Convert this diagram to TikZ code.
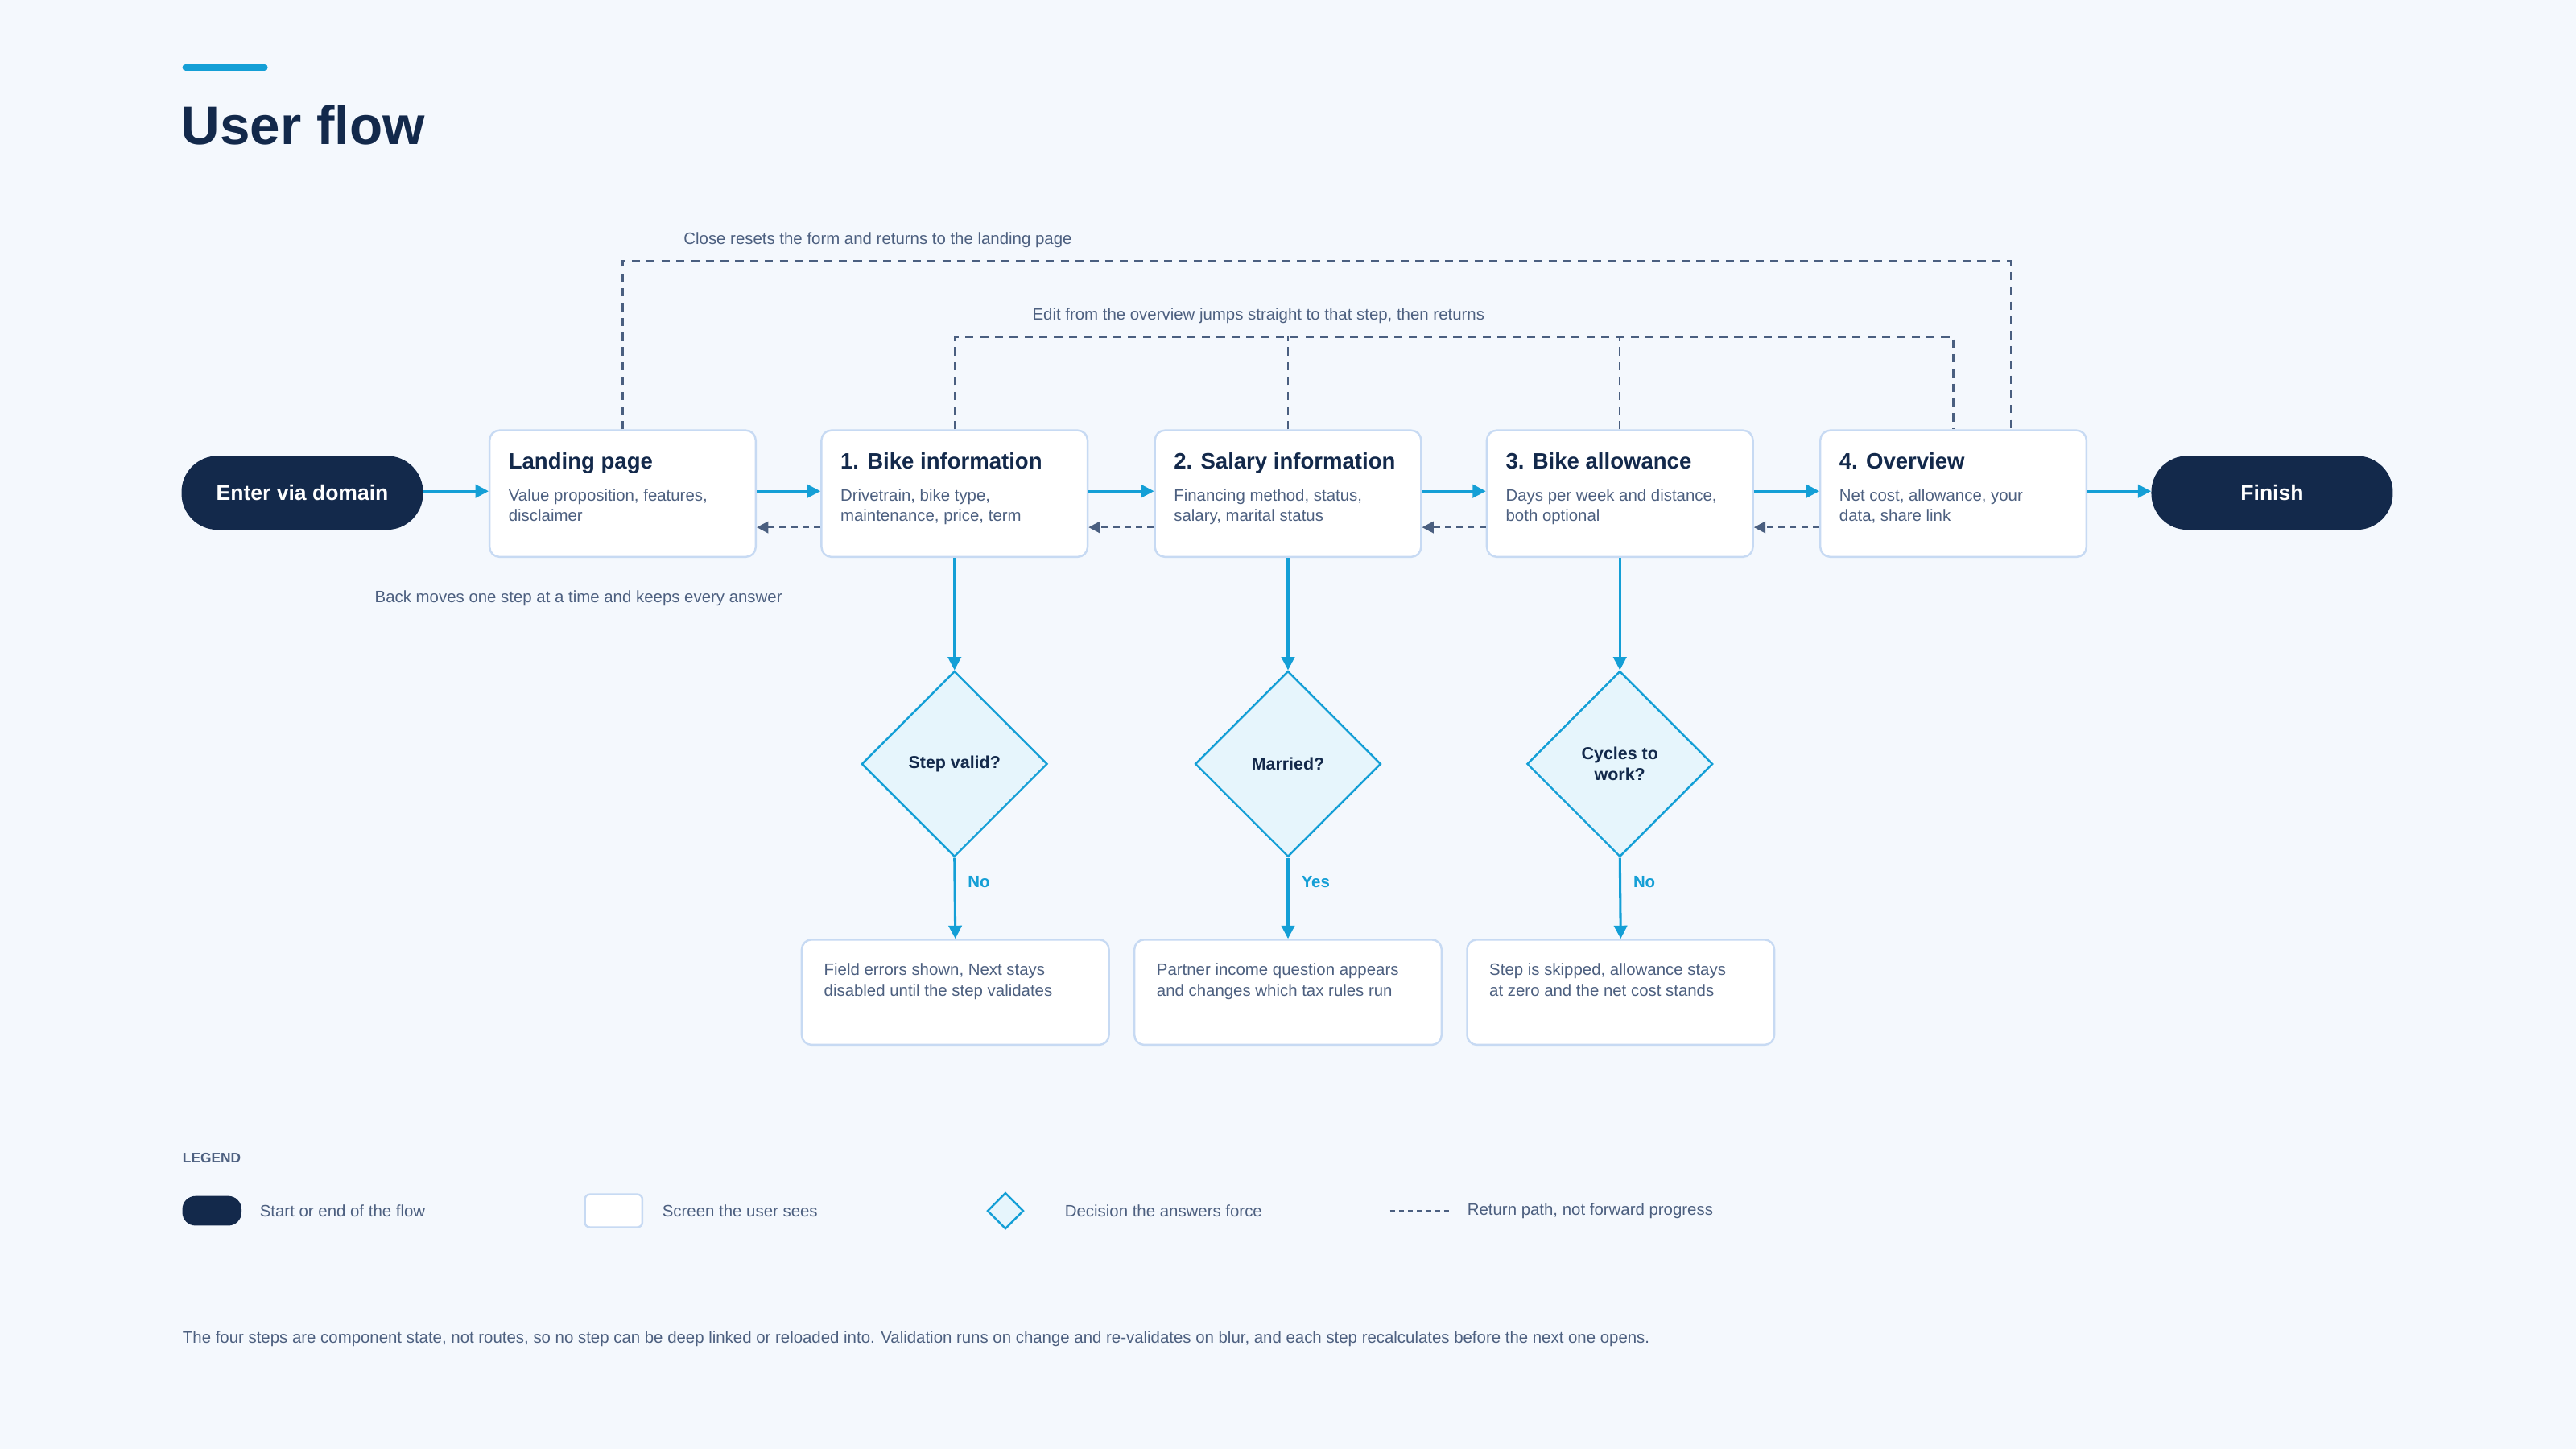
\documentclass[tikz,border=0pt]{standalone}
\usepackage{fontspec}
\setmainfont{Liberation Sans}
\usetikzlibrary{arrows.meta,shapes.geometric,positioning}
\definecolor{bg}{HTML}{F4F8FD}
\definecolor{navy}{HTML}{13294B}
\definecolor{cyan}{HTML}{149FD6}
\definecolor{txt}{HTML}{4D6080}
\definecolor{bord}{HTML}{C7DAF3}
\definecolor{dfill}{HTML}{E6F5FC}
\definecolor{dash}{HTML}{4A5F80}
\begin{document}
\begin{tikzpicture}[x=1pt,y=-1pt,
  pill/.style={rounded corners=22pt,fill=navy,minimum width=147pt,minimum height=45pt,text=white,font=\fontsize{13}{15}\selectfont\bfseries,inner sep=0},
  screen/.style={draw=bord,line width=1.2pt,fill=white,rounded corners=6pt,minimum width=162pt,minimum height=77pt,inner sep=0},
  res/.style={draw=bord,line width=1.2pt,fill=white,rounded corners=6pt,minimum width=187pt,minimum height=64pt,inner sep=0},
  ttl/.style={anchor=north west,text=navy,font=\fontsize{13.5}{15}\selectfont\bfseries,inner sep=0},
  desc/.style={anchor=north west,text=txt,font=\fontsize{10}{12.5}\selectfont,align=left,inner sep=0},
  dec/.style={diamond,draw=cyan,line width=1.2pt,fill=dfill,minimum width=113pt,minimum height=113pt,inner sep=0,aspect=1,text=navy,font=\fontsize{10.5}{12.5}\selectfont\bfseries,align=center},
  fwd/.style={draw=cyan,line width=1.5pt,-{Triangle[length=8pt,width=8pt]}},
  back/.style={draw=dash,line width=1.2pt,dash pattern=on 4pt off 3pt,-{Triangle[length=7pt,width=7pt]}},
  ret/.style={draw=dash,line width=1.2pt,dash pattern=on 5pt off 4pt},
  lbl/.style={text=txt,font=\fontsize{10}{12}\selectfont,inner sep=0},
  yn/.style={text=cyan,font=\fontsize{10}{12}\selectfont\bfseries,inner sep=0,anchor=west}]
\fill[bg] (0,0) rectangle (1568,882);
\useasboundingbox (0,0) rectangle (1568,882);
\draw[cyan,line width=4pt,line cap=round] (113,41) -- (161,41);
\node[anchor=base west,inner sep=0,text=navy,font=\fontsize{33}{36}\selectfont\bfseries] (title) at (110,88) {User flow};

\node[pill] (enter) at (184,300) {Enter via domain};
\node[pill] (finish) at (1383,300) {Finish};
\foreach \n/\x/\t/\d in {land/379/Landing page/{Value proposition, features,\\disclaimer},
  b1/581/1. Bike information/{Drivetrain, bike type,\\maintenance, price, term},
  b2/784/2. Salary information/{Financing method, status,\\salary, marital status},
  b3/986/3. Bike allowance/{Days per week and distance,\\both optional},
  b4/1189/4. Overview/{Net cost, allowance, your\\data, share link}}{
  \node[screen] (\n) at (\x,300.5) {};
  \node[ttl] (\n t) at ([xshift=12pt,yshift=-14pt]\n.north west) {\t};
  \node[desc] (\n d) at ([xshift=12pt,yshift=-36pt]\n.north west) {\d};
}
\foreach \a/\b in {enter/land,land/b1,b1/b2,b2/b3,b3/b4,b4/finish}
  \draw[fwd] (\a.east |- 0,299) -- (\b.west |- 0,299);
\foreach \a/\b in {b1/land,b2/b1,b3/b2,b4/b3}
  \draw[back] (\a.west |- 0,321) -- (\b.east |- 0,321);

% close loop
\coordinate (c1) at (379,159); \coordinate (c2) at (1224,159);
\draw[ret] (land.north) -- (c1) -- (c2) -- (c2 |- b4.north);
\node[lbl,anchor=west] (closel) at (416,146) {Close resets the form and returns to the landing page};
% edit loop
\coordinate (e1) at (581,205); \coordinate (e2) at (1189,205);
\draw[ret] (b1.north) -- (e1) -- (e2) -- (b4.north);
\draw[ret] (b2.north) -- (b2.north |- e1);
\draw[ret] (b3.north) -- (b3.north |- e1);
\node[lbl] (editl) at (766,192) {Edit from the overview jumps straight to that step, then returns};
\node[lbl,anchor=west] (backl) at (228,364) {Back moves one step at a time and keeps every answer};

\node[dec] (d1) at (581,465) {Step valid?};
\node[dec] (d2) at (784,465) {Married?};
\node[dec] (d3) at (986,465) {Cycles to\\work?};
\node[res] (r1) at (581.5,604) {}; \node[res] (r2) at (784,604) {}; \node[res] (r3) at (986.5,604) {};
\node[desc] (r1t) at ([xshift=14pt,yshift=-15pt]r1.north west) {Field errors shown, Next stays\\disabled until the step validates};
\node[desc] (r2t) at ([xshift=14pt,yshift=-15pt]r2.north west) {Partner income question appears\\and changes which tax rules run};
\node[desc] (r3t) at ([xshift=14pt,yshift=-15pt]r3.north west) {Step is skipped, allowance stays\\at zero and the net cost stands};
\foreach \i/\yn in {1/No,2/Yes,3/No}{
  \draw[fwd] (b\i.south) -- (d\i.north);
  \draw[fwd] (d\i.south) -- (r\i.north);
  \node[yn] (yn\i) at ([xshift=8pt]d\i.south |- 0,537) {\yn};
}

% legend
\node[anchor=west,inner sep=0,text=txt,font=\fontsize{8.5}{10}\selectfont\bfseries] (leg) at (111,705) {LEGEND};
\node[fill=navy,rounded corners=8pt,minimum width=36pt,minimum height=18pt,inner sep=0] (lg1) at (129,737) {};
\node[lbl,anchor=west] (lt1) at (158,737) {Start or end of the flow};
\node[draw=bord,line width=1.2pt,fill=white,rounded corners=3pt,minimum width=35pt,minimum height=20pt,inner sep=0] (lg2) at (373.5,737) {};
\node[lbl,anchor=west] (lt2) at (403,737) {Screen the user sees};
\node[diamond,draw=cyan,line width=1.2pt,fill=dfill,minimum width=22pt,minimum height=22pt,inner sep=0] (lg3) at (612,737) {};
\node[lbl,anchor=west] (lt3) at (648,737) {Decision the answers force};
\coordinate (l4a) at (846,737); \coordinate (l4b) at (882,737);
\draw[draw=dash,line width=1.2pt,dash pattern=on 3pt off 2.5pt] (l4a) -- (l4b);
\node[lbl,anchor=west] (lt4) at (893,737) {Return path, not forward progress};
\node[lbl,anchor=west] (foot) at (111,815) {The four steps are component state, not routes, so no step can be deep linked or reloaded into. Validation runs on change and re-validates on blur, and each step recalculates before the next one opens.};
\end{tikzpicture}
\end{document}
